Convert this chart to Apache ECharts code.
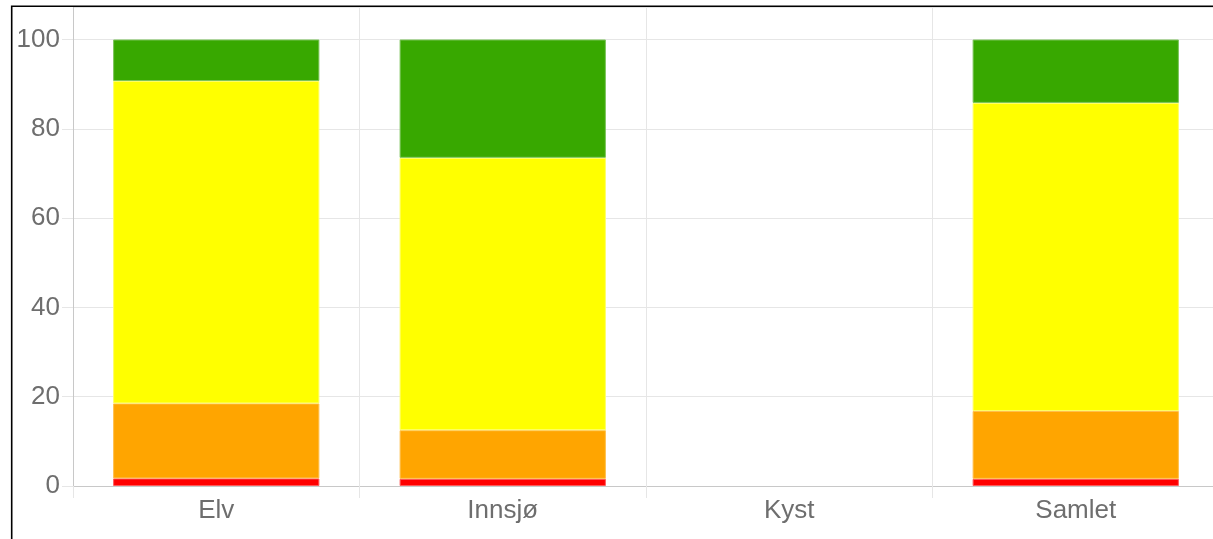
<!DOCTYPE html>
<html>
<head>
<meta charset="utf-8">
<script src="https://cdn.jsdelivr.net/npm/echarts@6/dist/echarts.min.js"></script>
<style>
html,body{margin:0;padding:0;background:#fff;overflow:hidden;width:1213px;height:539px;}
#c{width:1219px;height:539px;}
</style>
</head>
<body>
<div id="c"></div>
<script>
const categories = ['Elv', 'Innsjø', 'Kyst', 'Samlet'];
const redValues = [1.7, 1.6, null, 1.6];
const orangeValues = [16.8, 10.9, null, 15.2];
const yellowValues = [72.2, 61.0, null, 69.0];
const greenValues = [9.3, 26.5, null, 14.2];
const yTicks = [0, 20, 40, 60, 80, 100];

const chart = echarts.init(document.getElementById('c'));
const fontFamily = 'Liberation Sans, Arial, Helvetica, sans-serif';
const gridColor = '#e6e6e6';
const plotTop = 7, plotBottom = 486, hundredY = 39.5;
const yMax = 100 * (plotBottom - plotTop) / (plotBottom - hundredY);

function barSeries(name, data, color, border) {
  return {
    name: name,
    type: 'bar',
    stack: 'total',
    data: data,
    barWidth: '72%',
    itemStyle: { color: color, borderColor: border, borderWidth: 1 },
    emphasis: { disabled: true },
    animation: false
  };
}

chart.setOption({
  animation: false,
  grid: { left: 73, right: 0, top: plotTop, bottom: 539 - plotBottom, containLabel: false },
  xAxis: {
    type: 'category',
    data: categories,
    axisLine: { show: true, lineStyle: { color: '#c8c8c8', width: 1 } },
    axisTick: { show: true, length: 12, alignWithLabel: false, lineStyle: { color: gridColor } },
    axisLabel: { color: '#6e6e6e', fontSize: 26, fontFamily: fontFamily, margin: 12 },
    splitLine: { show: true, lineStyle: { color: gridColor } }
  },
  yAxis: {
    type: 'value',
    min: 0,
    max: yMax,
    interval: 20,
    axisLine: { show: true, lineStyle: { color: '#c8c8c8', width: 1 } },
    axisTick: { show: true, length: 11, lineStyle: { color: gridColor } },
    axisLabel: {
      color: '#6e6e6e', fontSize: 26, fontFamily: fontFamily, margin: 13,
      showMaxLabel: false,
      formatter: function (v) { return yTicks.indexOf(Math.round(v)) >= 0 && Math.abs(v - Math.round(v)) < 1e-6 ? String(Math.round(v)) : ''; }
    },
    splitLine: { show: true, lineStyle: { color: gridColor } }
  },
  series: [
    barSeries('red', redValues, '#ff0000', '#ff5a5a'),
    barSeries('orange', orangeValues, '#ffa500', '#ffc04d'),
    barSeries('yellow', yellowValues, '#ffff00', '#ffff66'),
    barSeries('green', greenValues, '#38a800', '#7cc45a')
  ],
  graphic: [{
    type: 'rect',
    z: 100,
    silent: true,
    shape: { x: 11.7, y: 6.3, width: 1400, height: 800 },
    style: { fill: 'none', stroke: '#000', lineWidth: 1.6 }
  }]
});
</script>
</body>
</html>
